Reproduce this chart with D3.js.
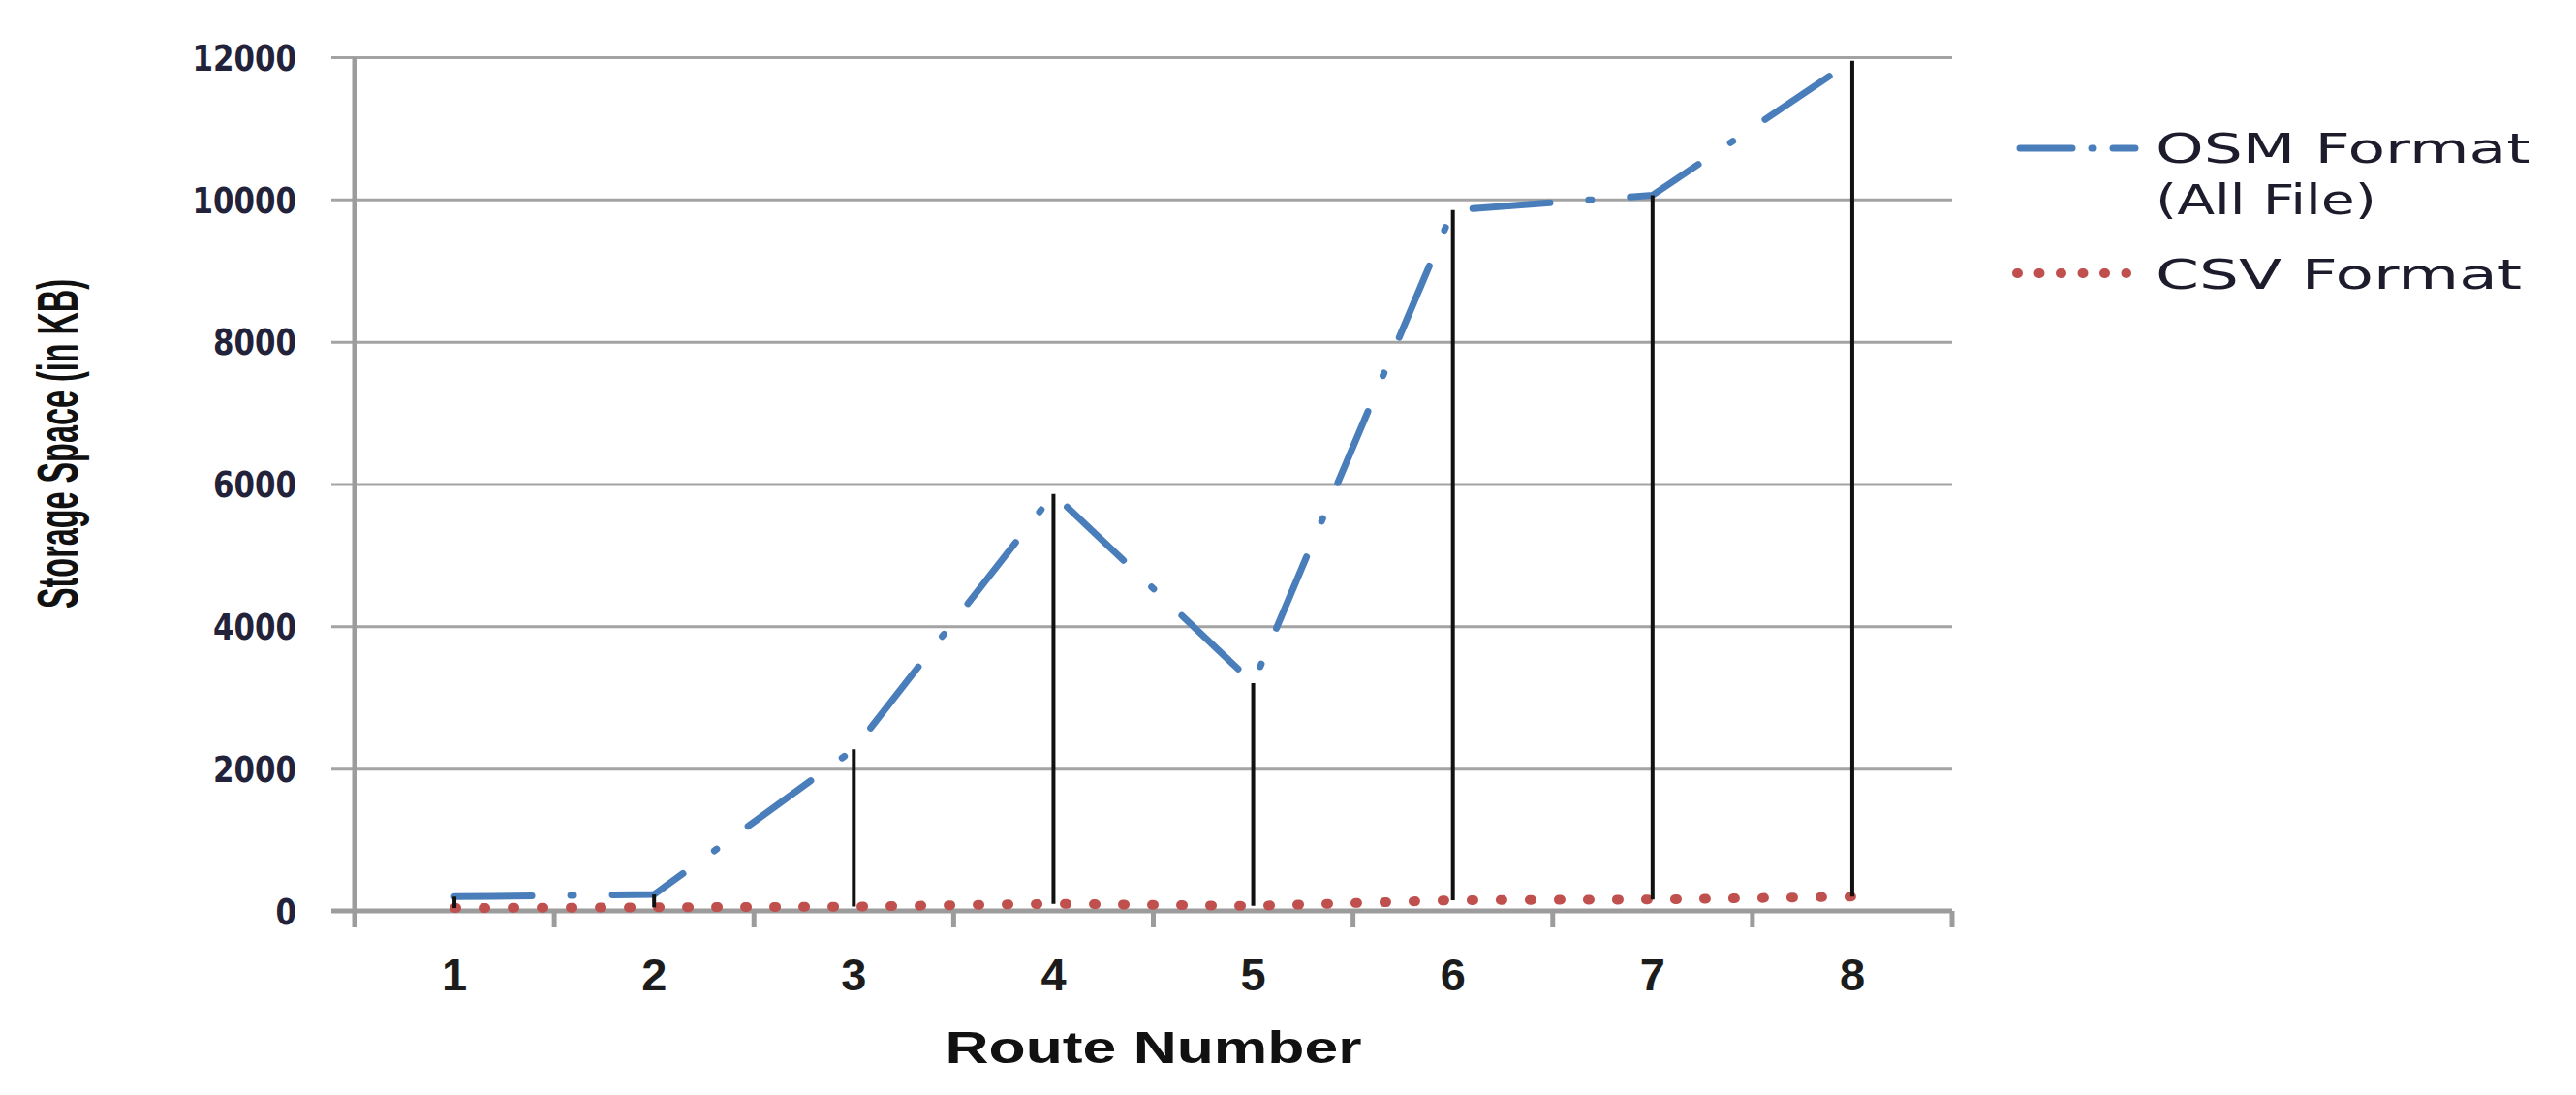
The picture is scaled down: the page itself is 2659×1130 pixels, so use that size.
<!DOCTYPE html>
<html>
<head>
<meta charset="utf-8">
<title>Storage Space per Route</title>
<script src="https://d3js.org/d3.v7.min.js"></script>
<style>
  body { margin: 0; background: #fff; }
  .ylab text { font-family: "DejaVu Sans", Verdana, sans-serif; font-weight: bold; font-size: 37px; fill: #22223a; }
  .xlab text { font-family: "Liberation Sans Narrow", "Liberation Sans", Arial, sans-serif; font-weight: bold; font-size: 47px; fill: #1c1c1c; }
  .grid line { stroke: #a3a3a3; stroke-width: 3px; }
  .axisline { stroke: #9c9c9c; stroke-width: 5px; }
  .legend text { font-family: "DejaVu Sans", Verdana, sans-serif; font-size: 43px; fill: #1c1c2c; }
  .title { font-family: "Liberation Sans Narrow", "Liberation Sans", Arial, sans-serif; font-weight: bold; fill: #111; }
</style>
</head>
<body>
<svg id="chart" width="2659" height="1130"></svg>
<script>
// values
var routes = [1, 2, 3, 4, 5, 6, 7, 8];
var osmSizes = [200, 230, 2270, 5860, 3200, 9850, 10060, 11950];
var csvSizes = [40, 50, 60, 100, 70, 150, 160, 200];
var yTicks = [0, 2000, 4000, 6000, 8000, 10000, 12000];
var osmLabel = ["OSM Format", "(All File)"];
var csvLabel = "CSV Format";
var xTitle = "Route Number";
var yTitle = "Storage Space  (in KB)";

var svg = d3.select("#chart");
svg.append("rect").attr("width", 2659).attr("height", 1130).attr("fill", "#fff");

var plot = {left: 366, right: 2015, top: 59, bottom: 940};

var x = d3.scaleBand().domain(routes).range([plot.left, plot.right]);
var y = d3.scaleLinear().domain([0, 12000]).range([plot.bottom, plot.top]);
var cx = function(d) { return x(d) + x.bandwidth() / 2; };

// horizontal gridlines (with the little outside tick on the left)
svg.append("g")
    .attr("class", "grid")
    .attr("transform", "translate(" + plot.right + ",0)")
    .call(d3.axisLeft(y).tickValues(yTicks.slice(1)).tickSize(plot.right - plot.left + 24).tickFormat(""))
    .call(function(g) { g.select(".domain").remove(); });

// y tick labels
svg.append("g")
    .attr("class", "ylab")
    .attr("transform", "translate(" + plot.left + ",0)")
    .call(d3.axisLeft(y).tickValues(yTicks).tickSize(0).tickPadding(60).tickFormat(d3.format("d")))
    .call(function(g) {
      g.select(".domain").remove();
      g.selectAll("text")
        .attr("dy", "0.36em")
        .attr("textLength", function(d) { return String(d).length * 21.5; })
        .attr("lengthAdjust", "spacingAndGlyphs");
    });

// axis lines
svg.append("line").attr("class", "axisline")
    .attr("x1", plot.left).attr("x2", plot.left).attr("y1", plot.top).attr("y2", plot.bottom + 2);
svg.append("line").attr("class", "axisline")
    .attr("x1", plot.left - 24).attr("x2", plot.right).attr("y1", plot.bottom).attr("y2", plot.bottom);

// x ticks between categories
var bounds = routes.map(function(d) { return x(d); }).concat([plot.right]);
svg.append("g").selectAll("line")
    .data(bounds)
    .enter().append("line")
    .attr("class", "axisline")
    .attr("stroke-width", 4)
    .attr("x1", function(d) { return d; }).attr("x2", function(d) { return d; })
    .attr("y1", plot.bottom).attr("y2", plot.bottom + 17);

// x tick labels
svg.append("g")
    .attr("class", "xlab")
    .attr("transform", "translate(0," + plot.bottom + ")")
    .call(d3.axisBottom(x).tickSize(0))
    .call(function(g) {
      g.select(".domain").remove();
      g.selectAll("text").attr("y", 82).attr("dy", 0);
    });

var osmData = routes.map(function(r, i) { return {route: r, v: osmSizes[i]}; });
var csvData = routes.map(function(r, i) { return {route: r, v: csvSizes[i]}; });

var line = d3.line()
    .x(function(d) { return cx(d.route); })
    .y(function(d) { return y(d.v); });

svg.append("path")
    .datum(csvData)
    .attr("d", line)
    .attr("fill", "none")
    .attr("stroke", "#c0504d")
    .attr("stroke-width", 10)
    .attr("stroke-linecap", "round")
    .attr("stroke-dasharray", "2 28");

svg.append("path")
    .datum(osmData)
    .attr("d", line)
    .attr("fill", "none")
    .attr("stroke", "#4a7ebb")
    .attr("stroke-width", 7)
    .attr("stroke-linecap", "round")
    .attr("stroke-dasharray", "80 40 3 40");

// high-low lines
svg.append("g").selectAll("line")
    .data(routes)
    .enter().append("line")
    .attr("x1", cx).attr("x2", cx)
    .attr("y1", function(d, i) { return y(osmSizes[i]); })
    .attr("y2", function(d, i) { return y(csvSizes[i]); })
    .attr("stroke", "#111")
    .attr("stroke-width", 4);

// axis titles
svg.append("text")
    .attr("class", "title")
    .attr("x", (plot.left + plot.right) / 2).attr("y", 1097)
    .attr("text-anchor", "middle")
    .attr("font-size", 46)
    .attr("textLength", 430).attr("lengthAdjust", "spacingAndGlyphs")
    .text(xTitle);

svg.append("text")
    .attr("class", "title")
    .attr("transform", "translate(80,458) rotate(-90)")
    .attr("text-anchor", "middle")
    .attr("font-size", 59)
    .attr("textLength", 340).attr("lengthAdjust", "spacingAndGlyphs")
    .text(yTitle);

// legend
var legend = svg.append("g").attr("class", "legend");
legend.append("line")
    .attr("x1", 2085).attr("x2", 2204).attr("y1", 153).attr("y2", 153)
    .attr("stroke", "#4a7ebb").attr("stroke-width", 7)
    .attr("stroke-linecap", "round")
    .attr("stroke-dasharray", "54 20 2 20");
legend.append("line")
    .attr("x1", 2082).attr("x2", 2195).attr("y1", 282).attr("y2", 282)
    .attr("stroke", "#c0504d").attr("stroke-width", 10)
    .attr("stroke-linecap", "round")
    .attr("stroke-dasharray", "1 21.5");

legend.append("text").attr("x", 2225).attr("y", 168)
    .attr("textLength", 387).attr("lengthAdjust", "spacingAndGlyphs").text(osmLabel[0]);
legend.append("text").attr("x", 2225).attr("y", 221)
    .attr("textLength", 228).attr("lengthAdjust", "spacingAndGlyphs").text(osmLabel[1]);
legend.append("text").attr("x", 2225).attr("y", 298)
    .attr("textLength", 378).attr("lengthAdjust", "spacingAndGlyphs").text(csvLabel);
</script>
</body>
</html>
